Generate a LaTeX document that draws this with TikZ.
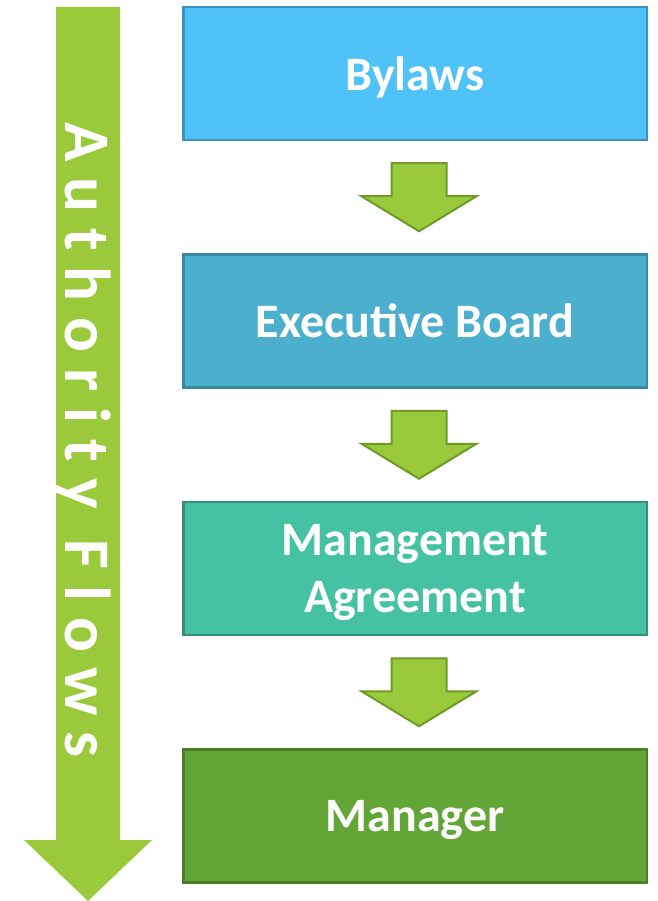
\documentclass[tikz,border=0pt]{standalone}
\usepackage{fontspec}
\setmainfont{Carlito}
\usetikzlibrary{positioning}
\usetikzlibrary{calc}

\definecolor{flowgreen}{RGB}{154,202,60}
\definecolor{flowgreenline}{RGB}{110,155,40}
\definecolor{bylawsfill}{RGB}{79,195,247}
\definecolor{bylawsline}{RGB}{62,145,192}
\definecolor{boardfill}{RGB}{75,175,205}
\definecolor{boardline}{RGB}{58,137,162}
\definecolor{agreefill}{RGB}{69,193,163}
\definecolor{agreeline}{RGB}{55,143,121}
\definecolor{managerfill}{RGB}{100,165,55}
\definecolor{managerline}{RGB}{76,126,40}

\begin{document}
\begin{tikzpicture}[x=1pt,y=1pt,yscale=-1,xscale=1,
  levelbox/.style={draw, line width=2.5pt, minimum width=463.5pt, minimum height=133pt,
    inner sep=0pt, align=center, text=white, text depth=0pt,
    font=\fontsize{48}{57}\selectfont\bfseries},
  blockarrow/.style={fill=flowgreen, draw=flowgreenline, line width=2pt, line join=miter},
  flowtext/.style={rotate=-90, anchor=base, text=white, inner sep=0pt,
    font=\fontsize{65}{65}\selectfont\bfseries\addfontfeature{LetterSpace=24.5}}]
\useasboundingbox (0,0) rectangle (657,901);

%Big arrow on the left
\fill [flowgreen] (56,7) -- (120,7) -- (120,840) -- (152,840) -- (88,901) -- (24,840) -- (56,840) -- cycle ;
% Text Node
\node [flowtext] (flowlabel) at (65,440) {Authority Flows};

%Levels
\node [levelbox, fill=bylawsfill, draw=bylawsline] (bylaws) at (415,73.5) {Bylaws};
\node [levelbox, fill=boardfill, draw=boardline, below=112pt of bylaws] (board) {Executive Board};
\node [levelbox, fill=agreefill, draw=agreeline, below=112pt of board] (agreement) {Management\\Agreement};
\node [levelbox, fill=managerfill, draw=managerline, below=112pt of agreement] (manager) {Manager};

%Small arrows between levels
\foreach \a/\b in {bylaws/board, board/agreement, agreement/manager}
  \draw [blockarrow] ($(\a.south)!0.5!(\b.north)+(4,0)$) ++(-27.5,-34) -- ++(55,0) -- ++(0,33) -- ++(30,0)
    -- ++(-57.5,35) -- ++(-57.5,-35) -- ++(30,0) -- cycle ;

\end{tikzpicture}
\end{document}
